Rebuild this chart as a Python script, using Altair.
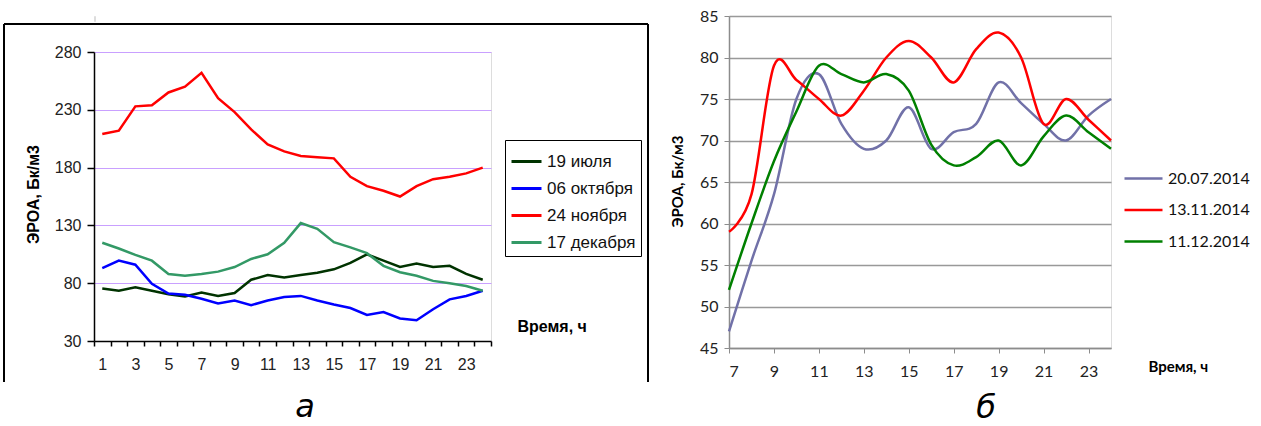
import altair as alt
import pandas as pd

# ---------------- data: panel "а" ----------------
hours_a = list(range(1, 25))
names_a = ["19 июля", "06 октября", "24 ноября", "17 декабря"]
colors_a = ["#003300", "#0000ff", "#ff0000", "#339966"]
jul19 = [75.5, 73.5, 76.5, 73.5, 70.5, 68.5, 72, 69, 71.5, 83, 87, 85,
         87, 89, 92, 97.5, 105, 99.5, 94, 97, 94, 95, 88, 83]
oct06 = [93, 99.5, 96, 79.5, 71, 70, 66.5, 62.5, 65, 61, 65, 68,
         69, 65, 61.5, 58.5, 52.5, 55, 49.5, 48, 57.5, 66, 69, 73.5]
nov24 = [209, 212, 233, 234, 245, 250, 262, 240, 228, 213, 200, 194,
         190, 189, 188, 172, 164, 160, 155, 164, 170, 172, 175, 180]
dec17 = [115, 110, 104.5, 99.5, 88, 86.5, 88, 90, 94, 101, 105, 115,
         132, 127, 115.5, 111, 106, 95, 89.5, 86.5, 82, 80, 77.5, 73.5]
yticks_a = [30, 80, 130, 180, 230, 280]

# ---------------- data: panel "б" ----------------
hours_b = list(range(7, 25))
names_b = ["20.07.2014", "13.11.2014", "11.12.2014"]
colors_b = ["#7171a8", "#ff0000", "#008000"]
d20_07 = [47, 55.5, 63.5, 75, 78, 72, 69, 70, 74, 69, 71, 72, 77, 74.5, 72, 70, 73, 75]
d13_11 = [59, 63.5, 79, 77.3, 75, 73, 76, 80, 82, 80, 77, 81, 83, 80, 72, 75, 72.5, 70]
d11_12 = [52, 60, 67.5, 73.5, 79, 78, 77, 78, 76, 69.5, 67, 68, 70, 67, 70.5, 73, 71, 69]
xticks_b = [7, 9, 11, 13, 15, 17, 19, 21, 23]
yticks_b = [45, 50, 55, 60, 65, 70, 75, 80, 85]

rows_a = []
for nm, vals in zip(names_a, [jul19, oct06, nov24, dec17]):
    for h, v in zip(hours_a, vals):
        rows_a.append({"hour": h, "value": v, "series": nm})
df_a = pd.DataFrame(rows_a)

rows_b = []
for nm, vals in zip(names_b, [d20_07, d13_11, d11_12]):
    for h, v in zip(hours_b, vals):
        rows_b.append({"hour": h, "value": v, "series": nm})
df_b = pd.DataFrame(rows_b)

one = pd.DataFrame({"a": [0]})
FA = "Liberation Sans"
FB = "Lato"

# ---------------- panel "а" ----------------
W_A, H_A = 397, 289
lines_a = alt.Chart(df_a).mark_line(strokeWidth=2.5).encode(
    x=alt.X("hour:O",
            scale=alt.Scale(type="band", paddingInner=0, paddingOuter=0),
            bandPosition=0.5,
            axis=alt.Axis(tickBand="extent", labelAngle=0, labelOverlap=False,
                          labelExpr="datum.value % 2 == 1 ? datum.label : ''",
                          tickSize=5, tickColor="black", tickWidth=1.5,
                          domainColor="black", domainWidth=1.5,
                          labelFont=FA, labelFontSize=16, labelColor="#222",
                          labelPadding=10, grid=False,
                          title="Время, ч", titleX=423, titleY=-15,
                          titleAlign="left", titleBaseline="middle",
                          titleFont=FA, titleFontSize=16, titleFontWeight="bold",
                          titleColor="black")),
    y=alt.Y("value:Q",
            scale=alt.Scale(domain=[30, 280], nice=False, zero=False),
            axis=alt.Axis(values=yticks_a, tickSize=7, tickColor="black", tickWidth=1.5,
                          domainColor="black", domainWidth=1.5,
                          labelFont=FA, labelFontSize=16, labelColor="#222",
                          labelPadding=6, grid=True, gridColor="#c9a0ff", gridWidth=1.2,
                          title="ЭРОА, Бк/м3", titleX=-61, titleY=142,
                          titleAngle=270, titleAlign="center", titleBaseline="middle",
                          titleFont=FA, titleFontSize=16, titleFontWeight="bold",
                          titleColor="black")),
    color=alt.Color("series:N",
                    scale=alt.Scale(domain=names_a, range=colors_a),
                    legend=alt.Legend(orient="none", legendX=411, legendY=124,
                                      title=None, strokeColor="black", padding=5,
                                      symbolType="stroke", symbolSize=900,
                                      symbolStrokeWidth=3, labelFont=FA,
                                      labelFontSize=17, labelColor="#111",
                                      rowPadding=2, labelOffset=4)),
)

frame_top = alt.Chart(one).mark_rule(color="black", strokeWidth=2).encode(
    x=alt.value(-90), x2=alt.value(554), y=alt.value(-28))
frame_left = alt.Chart(one).mark_rule(color="black", strokeWidth=2).encode(
    x=alt.value(-90), y=alt.value(-28), y2=alt.value(330))
frame_right = alt.Chart(one).mark_rule(color="black", strokeWidth=2).encode(
    x=alt.value(554), y=alt.value(-28), y2=alt.value(330))
letter_a = alt.Chart(one).mark_text(text="а", font="DejaVu Sans", fontStyle="italic",
                                    fontSize=32, fontWeight=300, color="black",
                                    baseline="middle", align="center").encode(
    x=alt.value(211), y=alt.value(355))

panel_a = alt.layer(frame_top, frame_left, frame_right, lines_a, letter_a).properties(
    width=W_A, height=H_A)

spacer = alt.Chart(one).mark_rule(strokeWidth=0, opacity=0).encode(
    x=alt.value(0), y=alt.value(0), y2=alt.value(0)).properties(width=1, height=5)

left_col = alt.vconcat(spacer, panel_a, spacing=0)

# ---------------- panel "б" ----------------
W_B, H_B = 382, 332
lines_b = alt.Chart(df_b).mark_line(strokeWidth=2.5, interpolate="cardinal").encode(
    x=alt.X("hour:Q",
            scale=alt.Scale(domain=[7, 24], nice=False, zero=False),
            axis=alt.Axis(values=xticks_b, tickSize=5, tickColor="#8c8c8c",
                          domainColor="#8c8c8c", domainWidth=1.5,
                          labelFont=FB, labelFontSize=16, labelColor="#222",
                          labelPadding=10, grid=False,
                          title="Время, ч", titleX=419, titleY=18,
                          titleAlign="left", titleBaseline="middle",
                          titleFont=FB, titleFontSize=15, titleFontWeight="bold",
                          titleColor="black")),
    y=alt.Y("value:Q",
            scale=alt.Scale(domain=[45, 85], nice=False, zero=False),
            axis=alt.Axis(values=yticks_b, tickSize=5, tickColor="#8c8c8c",
                          domainColor="#8c8c8c", domainWidth=1.5,
                          labelFont=FB, labelFontSize=16, labelColor="#222",
                          labelPadding=6, grid=True, gridColor="#999999", gridWidth=1.5,
                          title="ЭРОА, Бк/м3", titleX=-52, titleY=165,
                          titleAngle=270, titleAlign="center", titleBaseline="middle",
                          titleFont=FB, titleFontSize=15, titleFontWeight="bold",
                          titleColor="black")),
    color=alt.Color("series:N",
                    scale=alt.Scale(domain=names_b, range=colors_b),
                    legend=alt.Legend(orient="none", legendX=394, legendY=142,
                                      title=None, padding=0,
                                      symbolType="stroke", symbolSize=1444,
                                      symbolStrokeWidth=2.5, labelFont=FB,
                                      labelFontSize=16, labelColor="#111",
                                      rowPadding=2.5, labelOffset=4)),
)
letter_b = alt.Chart(one).mark_text(text="б", font="DejaVu Sans", fontStyle="italic",
                                    fontSize=32, fontWeight=300, color="black",
                                    baseline="middle", align="center").encode(
    x=alt.value(257), y=alt.value(392))

panel_b = alt.layer(lines_b, letter_b).properties(width=W_B, height=H_B)

chart = alt.hconcat(left_col, panel_b, spacing=19).resolve_scale(
    x="independent", y="independent", color="independent"
).properties(
    padding={"left": 2, "top": 7, "right": 0, "bottom": 0}
).configure_view(strokeWidth=0).configure(background="white")

chart.save("out.html", embed_options={"renderer": "svg", "actions": False})
